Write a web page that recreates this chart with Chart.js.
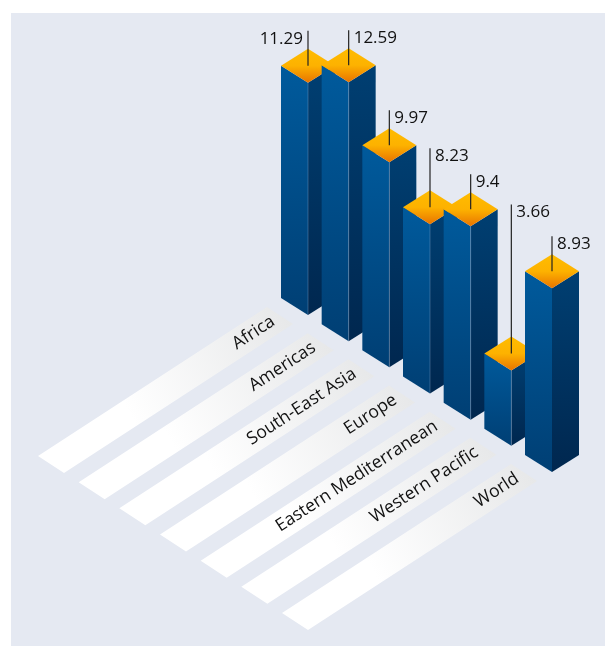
<!DOCTYPE html>
<html>
<head>
<meta charset="utf-8">
<title>Regional values</title>
<script src="https://cdn.jsdelivr.net/npm/chart.js@4"></script>
<style>
  html, body { margin: 0; background: #fff; }
  #wrap { position: relative; width: 605px; height: 646px; overflow: hidden; }
  #panel { position: absolute; left: 11px; top: 13px; right: 0; bottom: 0; background: #e5e9f2; }
  canvas { position: absolute; left: 0; top: 0; }
</style>
</head>
<body>
<div id="wrap">
  <div id="panel"></div>
  <canvas id="chart" width="605" height="646"></canvas>
</div>
<script>
const categories = ["Africa", "Americas", "South-East Asia", "Europe", "Eastern Mediterranean", "Western Pacific", "World"];
const values = [11.29, 12.59, 9.97, 8.23, 9.4, 3.66, 8.93];

// how far each value's leader line rises above its bar top
const leaderRise = [35, 35, 35, 59, 35, 149, 35];

// isometric steps
const rowDrop = 26.17;    // each bar sits this much lower than the previous one
const halfW = 27;
const halfH = 17;
const valueFont = '17px "Open Sans"';
const floorFont = '17.6px "Open Sans"';
const inkColor = "#111111";

const polygon = (ctx, pts, fill) => {
    ctx.beginPath();
    pts.forEach((p, i) => i ? ctx.lineTo(p[0], p[1]) : ctx.moveTo(p[0], p[1]));
    ctx.closePath();
    ctx.fillStyle = fill;
    ctx.fill();
};

const vGradient = (ctx, y0, y1, stops) => {
    const g = ctx.createLinearGradient(0, y0, 0, y1);
    stops.forEach((c, i) => g.addColorStop(i / (stops.length - 1), c));
    return g;
};

// floor strips with the category names lying on them
const floorStrips = {
    id: "floorStrips",
    beforeDatasetsDraw(chart) {
        const ctx = chart.ctx;
        const base = chart.scales.y.getPixelForValue(0);
        const meta = chart.getDatasetMeta(0);
        const angle = Math.atan2(149, 229);
        meta.data.forEach((bar, i) => {
            const x = bar.x;
            const y = base + i * rowDrop;
            const right = [x - 15, y + 9];
            const back = [x - 41, y - 8];
            const left = [x - 270, y + 141];
            const front = [x - 244, y + 158];
            const g = ctx.createLinearGradient(left[0], left[1], right[0], right[1]);
            g.addColorStop(0, "#ffffff");
            g.addColorStop(0.35, "#ffffff");
            g.addColorStop(1, "#e7e8e9");
            polygon(ctx, [back, right, front, left], g);

            ctx.save();
            ctx.translate(x - 34.7, y + 4.9);
            ctx.rotate(-angle);
            ctx.font = floorFont;
            ctx.fillStyle = inkColor;
            ctx.textAlign = "right";
            ctx.textBaseline = "middle";
            ctx.fillText(categories[i], 0, 0);
            ctx.restore();
        });
    }
};

// three visible faces of every bar, then its leader line and value
const prisms = {
    id: "prisms",
    afterDatasetsDraw(chart) {
        const ctx = chart.ctx;
        const yScale = chart.scales.y;
        const meta = chart.getDatasetMeta(0);
        meta.data.forEach((bar, i) => {
            const x = bar.x;
            const shift = i * rowDrop;
            const yb = yScale.getPixelForValue(0) + shift;
            const yt = yScale.getPixelForValue(values[i]) + shift;

            polygon(ctx, [[x - halfW, yt - halfH], [x, yt], [x, yb], [x - halfW, yb - halfH]],
                vGradient(ctx, yt - halfH, yb, ["#005a9c", "#003f74"]));
            polygon(ctx, [[x, yt], [x + halfW, yt - halfH], [x + halfW, yb - halfH], [x, yb]],
                vGradient(ctx, yt - halfH, yb, ["#003f72", "#00274f"]));
            polygon(ctx, [[x, yt - 2 * halfH], [x + halfW, yt - halfH], [x, yt], [x - halfW, yt - halfH]],
                vGradient(ctx, yt - 2 * halfH, yt, ["#ffbc00", "#fdb200", "#e87400"]));

            if (i < categories.length - 1) {
                ctx.strokeStyle = "rgba(150,180,215,0.45)";
                ctx.lineWidth = 0.75;
                ctx.beginPath();
                ctx.moveTo(x, yt);
                ctx.lineTo(x, yb);
                ctx.stroke();
            }

            const lineBottom = yt - halfH;
            const lineTop = lineBottom - leaderRise[i];
            ctx.strokeStyle = "#222222";
            ctx.lineWidth = 1.2;
            ctx.beginPath();
            ctx.moveTo(x, lineBottom);
            ctx.lineTo(x, lineTop);
            ctx.stroke();

            ctx.font = valueFont;
            ctx.fillStyle = inkColor;
            ctx.textBaseline = "middle";
            ctx.textAlign = i === 0 ? "right" : "left";
            ctx.fillText(String(values[i]), i === 0 ? x - 5 : x + 5, lineTop + 8);
        });
    }
};

new Chart(document.getElementById("chart"), {
    type: "bar",
    data: {
        labels: categories,
        datasets: [{ data: values, backgroundColor: "transparent", borderWidth: 0 }]
    },
    options: {
        responsive: false,
        animation: false,
        layout: { padding: { left: 308, right: 53, top: 27, bottom: 331 } },
        scales: {
            x: { display: false, offset: false },
            y: { display: false, min: 0, max: 14 }
        },
        plugins: { legend: { display: false }, tooltip: { enabled: false } }
    },
    plugins: [floorStrips, prisms]
});
</script>
</body>
</html>
